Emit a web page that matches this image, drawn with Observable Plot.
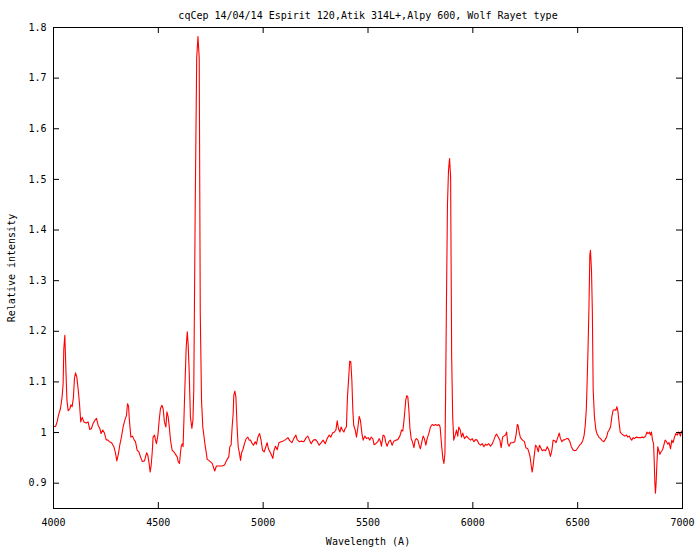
<!DOCTYPE html>
<html>
<head>
<meta charset="utf-8">
<script src="https://cdn.jsdelivr.net/npm/d3@7"></script>
<script src="https://cdn.jsdelivr.net/npm/@observablehq/plot@0.6"></script>
<style>
  html, body { margin: 0; padding: 0; background: #fff; }
  #chart svg { display: block; }
</style>
</head>
<body>
<div id="chart"></div>
<script>
const titleText = "cqCep 14/04/14 Espirit 120,Atik 314L+,Alpy 600, Wolf Rayet type";
const xLabel = "Wavelength (A)";
const yLabel = "Relative intensity";

const xDomain = [4000, 7000];
const yDomain = [0.85, 1.8];
const xTicks = [4000, 4500, 5000, 5500, 6000, 6500, 7000];
const yTicks = [0.9, 1, 1.1, 1.2, 1.3, 1.4, 1.5, 1.6, 1.7, 1.8];
const yTickLabels = ["0.9", "1", "1.1", "1.2", "1.3", "1.4", "1.5", "1.6", "1.7", "1.8"];

const wavelength = [
4000,4010,4017,4025,4033,4041,4046,4049,4054,4059,4064,4070,4078,4083,4089,4095,4100,4105,4111,4118,
4124,4130,4137,4145,4156,4165,4173,4181,4189,4197,4205,4213,4221,4227,4235,4243,4251,4259,4267,4277,
4288,4296,4302,4310,4316,4324,4332,4340,4348,4353,4358,4362,4369,4377,4385,4391,4399,4407,4415,4423,
4434,4444,4450,4456,4461,4466,4471,4475,4482,4486,4491,4498,4504,4510,4517,4523,4529,4536,4541,4547,
4553,4558,4566,4574,4582,4590,4595,4601,4606,4610,4615,4618,4623,4628,4633,4638,4642,4647,4653,4660,
4665,4669,4676,4683,4689,4695,4700,4706,4712,4717,4723,4728,4733,4741,4749,4757,4765,4769,4777,4789,
4804,4816,4822,4828,4836,4841,4847,4852,4857,4860,4865,4870,4876,4881,4887,4892,4897,4903,4911,4919,
4927,4933,4940,4948,4954,4962,4968,4975,4983,4990,4997,5005,5013,5019,5025,5032,5040,5046,5052,5059,
5067,5075,5086,5099,5107,5118,5127,5137,5146,5156,5162,5172,5181,5194,5205,5213,5221,5229,5239,5250,
5258,5267,5277,5286,5296,5305,5315,5323,5331,5340,5347,5353,5359,5366,5372,5378,5385,5391,5397,5402,
5409,5413,5418,5423,5428,5432,5439,5445,5452,5458,5464,5471,5477,5485,5493,5501,5509,5515,5523,5529,
5537,5547,5553,5560,5564,5572,5579,5585,5591,5599,5607,5615,5623,5633,5642,5652,5660,5666,5671,5676,
5680,5685,5690,5695,5700,5706,5712,5719,5725,5731,5738,5744,5750,5757,5763,5769,5776,5782,5790,5798,
5806,5814,5822,5830,5838,5844,5851,5857,5862,5867,5870,5874,5879,5884,5889,5894,5899,5904,5909,5916,
5922,5928,5933,5940,5946,5952,5960,5970,5981,5989,5997,6005,6013,6021,6029,6037,6045,6053,6060,6068,
6076,6084,6092,6100,6107,6113,6121,6129,6135,6142,6148,6156,6161,6167,6173,6180,6191,6200,6207,6212,
6216,6221,6227,6237,6246,6253,6262,6269,6273,6278,6283,6288,6293,6299,6305,6312,6318,6324,6331,6339,
6347,6355,6363,6370,6377,6383,6390,6397,6405,6412,6418,6425,6431,6439,6447,6455,6463,6469,6477,6485,
6493,6501,6509,6517,6525,6531,6536,6541,6545,6550,6554,6558,6561,6566,6570,6574,6580,6587,6593,6601,
6609,6617,6625,6631,6638,6644,6650,6657,6663,6669,6676,6682,6687,6692,6698,6703,6709,6717,6725,6733,
6739,6746,6752,6758,6765,6771,6779,6789,6800,6808,6816,6824,6830,6836,6843,6847,6852,6857,6862,6865,
6868,6871,6874,6878,6882,6887,6892,6898,6905,6911,6917,6924,6930,6936,6943,6949,6955,6962,6968,6975,
6981,6986,6990,6995,7000
];

const intensity = [
1.012,1.012,1.021,1.036,1.047,1.070,1.097,1.164,1.192,1.126,1.064,1.043,1.047,1.055,1.051,1.070,1.107,1.118,1.110,1.084,
1.057,1.021,1.030,1.021,1.019,1.021,1.006,1.008,1.018,1.024,1.028,1.014,1.008,0.998,1.005,0.999,0.986,0.985,0.982,0.980,
0.972,0.959,0.944,0.959,0.975,0.991,1.011,1.024,1.034,1.057,1.052,1.024,0.991,0.993,0.985,0.982,0.965,0.962,0.952,0.943,
0.944,0.960,0.955,0.939,0.922,0.936,0.962,0.991,0.995,0.986,0.978,0.995,1.024,1.047,1.054,1.047,1.021,1.011,1.041,1.031,
1.008,0.985,0.965,0.962,0.957,0.952,0.942,0.939,0.962,0.975,0.978,0.972,1.038,1.107,1.169,1.199,1.176,1.123,1.031,1.008,
1.024,1.084,1.450,1.740,1.782,1.740,1.236,1.064,1.011,0.995,0.975,0.962,0.947,0.945,0.942,0.939,0.929,0.924,0.934,0.934,
0.934,0.936,0.942,0.947,0.952,0.972,0.975,1.011,1.038,1.074,1.082,1.070,1.008,0.972,0.959,0.945,0.960,0.966,0.978,0.988,
0.991,0.985,0.985,0.978,0.975,0.982,0.977,0.991,0.998,0.985,0.965,0.962,0.972,0.980,0.968,0.962,0.955,0.949,0.965,0.973,
0.966,0.980,0.982,0.984,0.986,0.990,0.984,0.980,0.988,0.995,0.986,0.982,0.983,0.982,0.990,0.993,0.985,0.978,0.985,0.986,
0.982,0.975,0.980,0.985,0.978,0.988,0.995,0.991,0.999,1.001,1.005,1.023,1.008,1.001,1.011,1.005,1.001,1.008,1.011,1.070,
1.116,1.141,1.140,1.103,1.041,1.014,1.005,0.991,1.011,1.032,1.024,0.998,0.985,0.993,0.988,0.990,0.985,0.991,0.988,0.976,
0.978,0.982,0.988,0.982,0.973,0.995,0.993,0.980,0.973,0.982,0.985,0.975,0.983,0.985,0.986,0.993,1.005,1.003,1.021,1.044,
1.064,1.073,1.070,1.044,1.008,0.988,0.982,0.970,0.985,0.988,0.985,0.975,0.968,0.982,0.993,0.988,0.975,0.988,0.998,1.011,
1.016,1.014,1.016,1.014,1.016,1.011,0.975,0.949,0.939,0.959,1.070,1.250,1.450,1.518,1.541,1.505,1.150,1.030,0.985,0.995,
1.005,0.993,1.011,1.005,0.991,0.999,0.988,0.993,0.988,0.985,0.988,0.982,0.986,0.985,0.978,0.975,0.978,0.972,0.977,0.975,
0.978,0.973,0.977,0.985,0.993,0.997,0.991,0.985,0.970,0.991,0.993,0.995,1.001,0.978,0.973,0.980,0.980,0.982,0.998,1.016,
1.014,1.001,0.990,0.985,0.982,0.970,0.968,0.959,0.952,0.936,0.922,0.936,0.955,0.975,0.972,0.962,0.975,0.970,0.964,0.966,
0.964,0.972,0.965,0.953,0.965,0.985,0.984,0.980,0.990,0.999,0.988,0.982,0.985,0.986,0.988,0.988,0.982,0.973,0.966,0.964,
0.965,0.970,0.975,0.978,0.985,0.995,1.014,1.044,1.097,1.176,1.250,1.350,1.360,1.320,1.240,1.084,1.031,1.005,0.997,0.991,
0.988,0.984,0.982,0.986,0.991,1.001,1.005,1.011,1.031,1.044,1.045,1.044,1.051,1.042,1.018,1.001,0.998,0.995,0.993,0.995,
0.991,0.993,0.988,0.985,0.990,0.988,0.991,0.990,0.990,0.991,0.990,0.993,1.001,0.998,1.001,0.995,1.001,0.985,0.978,0.945,
0.903,0.880,0.899,0.939,0.972,0.964,0.957,0.962,0.966,0.975,0.985,0.982,0.977,0.980,0.968,0.985,0.980,0.991,0.998,0.995,
1.001,0.998,0.993,1.003,1.000
];

const spectrum = wavelength.map((w, i) => ({w, v: intensity[i]}));

const font = "DejaVu Sans Mono";

const chart = Plot.plot({
  width: 700,
  height: 550,
  marginLeft: 53,
  marginRight: 18,
  marginTop: 27,
  marginBottom: 42,
  style: {fontFamily: font, fontSize: "10px", background: "#fff", color: "#000"},
  x: {domain: xDomain, axis: null},
  y: {domain: yDomain, axis: null},
  marks: [
    Plot.line(spectrum, {x: "w", y: "v", stroke: "#ff0000", strokeWidth: 1.1, curve: "linear"}),
    Plot.frame({stroke: "#000", strokeWidth: 1, shapeRendering: "crispEdges"}),
    // inward ticks on all four sides (gnuplot mirror ticks)
    Plot.ruleX(xTicks, {x: d => d, y1: yDomain[0], y2: yDomain[0], insetTop: -6, stroke: "#000"}),
    Plot.ruleX(xTicks, {x: d => d, y1: yDomain[1], y2: yDomain[1], insetBottom: -6, stroke: "#000"}),
    Plot.ruleY(yTicks, {y: d => d, x1: xDomain[0], x2: xDomain[0], insetRight: -6, stroke: "#000"}),
    Plot.ruleY(yTicks, {y: d => d, x1: xDomain[1], x2: xDomain[1], insetLeft: -6, stroke: "#000"}),
    // tick labels
    Plot.text(xTicks, {x: d => d, y: yDomain[0], text: d => String(d), dy: 14, lineAnchor: "middle", fontFamily: font, fontSize: 10, fill: "#000"}),
    Plot.text(yTicks, {x: xDomain[0], y: d => d, text: (d, i) => yTickLabels[i], textAnchor: "end", lineAnchor: "middle", dx: -7, fontFamily: font, fontSize: 10, fill: "#000"}),
    // titles
    Plot.text([titleText], {frameAnchor: "top", dy: -12, lineAnchor: "middle", textAnchor: "middle", text: d => d, fontFamily: font, fontSize: 10, fill: "#000"}),
    Plot.text([xLabel], {frameAnchor: "bottom", dy: 33, lineAnchor: "middle", textAnchor: "middle", text: d => d, fontFamily: font, fontSize: 10, fill: "#000"}),
    Plot.text([yLabel], {frameAnchor: "left", dx: -42, rotate: -90, lineAnchor: "middle", textAnchor: "middle", text: d => d, fontFamily: font, fontSize: 10, fill: "#000"})
  ]
});

document.getElementById("chart").appendChild(chart);
</script>
</body>
</html>
